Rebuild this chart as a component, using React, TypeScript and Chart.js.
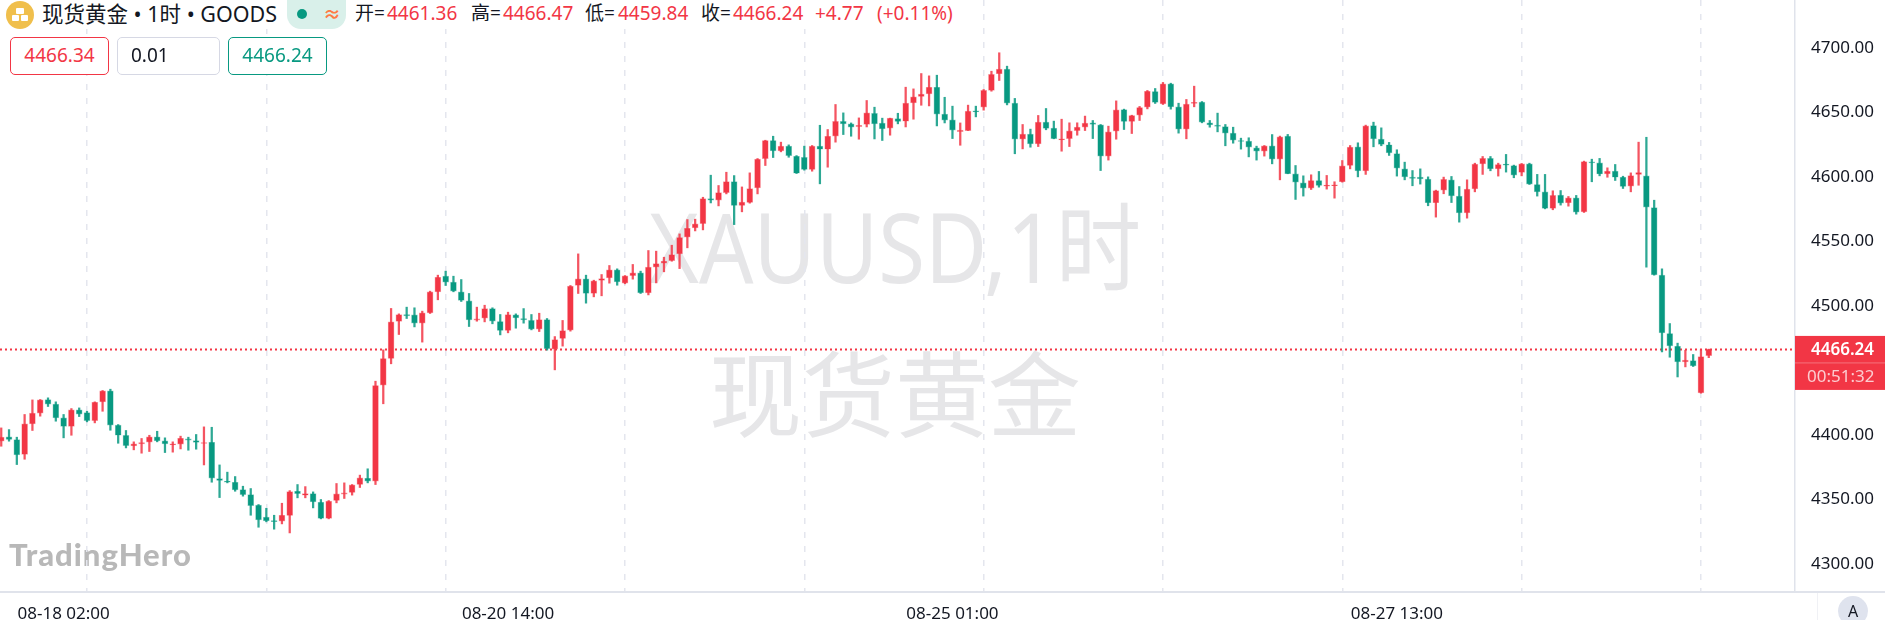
import { useEffect, useRef } from 'react'
import Chart from 'chart.js/auto'

const opens = [
  4395.1, 4398.4, 4396.4, 4384.8, 4408.5, 4416.8, 4427.4, 4423.8, 4413.2, 4406.5,
  4419.4, 4417.3, 4411.1, 4425.6, 4434.1, 4407.5, 4399.7, 4391.5, 4393.0, 4394.3,
  4398.4, 4395.3, 4392.2, 4392.8, 4396.9, 4395.6, 4393.3, 4394.3, 4366.1, 4364.1,
  4363.3, 4357.6, 4353.7, 4345.5, 4336.2, 4333.6, 4333.1, 4337.5, 4356.3, 4353.2,
  4354.5, 4347.8, 4335.2, 4349.1, 4354.0, 4355.3, 4361.5, 4366.4, 4364.1, 4438.5,
  4459.2, 4487.9, 4493.3, 4493.1, 4486.6, 4494.6, 4510.9, 4523.0, 4518.4, 4510.9,
  4503.9, 4488.9, 4490.5, 4497.9, 4487.9, 4480.9, 4493.0, 4490.2, 4488.7, 4481.9,
  4489.4, 4466.4, 4474.7, 4481.2, 4515.8, 4520.9, 4509.6, 4519.7, 4521.7, 4527.9,
  4517.6, 4523.5, 4525.6, 4510.1, 4530.0, 4533.1, 4535.1, 4540.3, 4553.2, 4560.5,
  4563.8, 4583.2, 4581.9, 4587.8, 4596.4, 4577.8, 4580.1, 4591.5, 4614.2, 4628.2,
  4620.2, 4623.8, 4616.0, 4615.2, 4605.7, 4623.8, 4621.4, 4631.5, 4643.1, 4641.1,
  4639.0, 4640.6, 4649.3, 4641.6, 4637.7, 4645.2, 4643.1, 4657.3, 4662.3, 4664.3,
  4669.5, 4648.6, 4644.2, 4635.1, 4635.9, 4651.2, 4654.0, 4667.0, 4679.9, 4683.5,
  4657.1, 4629.2, 4633.1, 4625.6, 4642.4, 4637.8, 4628.7, 4629.7, 4635.9, 4638.5,
  4641.9, 4640.3, 4616.1, 4635.4, 4652.2, 4642.9, 4647.8, 4654.0, 4666.2, 4656.6,
  4672.1, 4654.3, 4637.0, 4656.9, 4657.9, 4641.9, 4640.1, 4639.0, 4633.9, 4628.2,
  4627.7, 4622.5, 4619.9, 4624.1, 4613.7, 4631.6, 4602.4, 4595.4, 4591.2, 4597.2,
  4592.8, 4593.1, 4596.2, 4608.8, 4623.3, 4604.7, 4639.8, 4629.2, 4624.9, 4618.1,
  4606.2, 4599.8, 4599.8, 4598.2, 4579.9, 4589.7, 4597.7, 4585.1, 4572.1, 4590.7,
  4610.1, 4614.3, 4606.2, 4609.9, 4608.8, 4603.4, 4610.1, 4594.1, 4588.4, 4575.5,
  4585.8, 4579.9, 4583.8, 4572.9, 4611.7, 4610.9, 4602.3, 4604.4, 4599.7, 4592.8,
  4601.8, 4600.8, 4576.2, 4523.8, 4478.6, 4468.7, 4456.6, 4457.6, 4432.6, 4461.36,
]
const highs = [
  4405.4, 4404.1, 4398.2, 4415.8, 4427.1, 4427.4, 4428.7, 4425.6, 4415.8, 4420.4,
  4420.9, 4418.3, 4425.6, 4434.4, 4435.4, 4408.0, 4403.4, 4394.6, 4397.2, 4399.7,
  4402.8, 4397.7, 4394.6, 4399.0, 4398.2, 4400.3, 4406.2, 4405.9, 4376.7, 4371.1,
  4367.7, 4360.2, 4358.4, 4346.0, 4343.1, 4337.7, 4347.0, 4356.8, 4361.5, 4359.9,
  4355.8, 4349.9, 4349.1, 4362.3, 4362.8, 4361.5, 4368.8, 4373.7, 4441.6, 4465.9,
  4498.0, 4493.8, 4499.0, 4498.5, 4495.9, 4511.4, 4523.8, 4526.9, 4523.0, 4520.4,
  4509.6, 4499.0, 4500.5, 4498.5, 4493.3, 4495.1, 4493.8, 4497.9, 4493.3, 4494.3,
  4490.2, 4476.2, 4488.7, 4515.8, 4540.3, 4523.8, 4519.9, 4524.3, 4531.3, 4528.7,
  4523.5, 4532.1, 4526.9, 4542.9, 4542.4, 4537.7, 4547.0, 4555.8, 4566.9, 4567.2,
  4584.2, 4601.3, 4593.3, 4603.6, 4601.0, 4592.2, 4603.1, 4614.2, 4628.4, 4631.5,
  4626.9, 4624.8, 4616.5, 4623.8, 4624.3, 4640.0, 4636.7, 4656.1, 4649.6, 4641.8,
  4645.7, 4659.2, 4654.0, 4645.5, 4645.5, 4649.3, 4669.5, 4668.2, 4680.1, 4678.3,
  4678.8, 4661.7, 4654.8, 4641.8, 4655.6, 4654.8, 4667.7, 4681.9, 4696.2, 4685.8,
  4660.8, 4640.6, 4637.0, 4647.6, 4653.0, 4643.2, 4644.7, 4641.9, 4641.9, 4647.1,
  4643.7, 4640.6, 4639.3, 4658.9, 4652.5, 4647.8, 4654.6, 4667.0, 4668.5, 4673.2,
  4672.6, 4657.1, 4660.0, 4670.3, 4658.4, 4643.7, 4649.4, 4640.6, 4638.5, 4630.0,
  4630.3, 4623.8, 4624.3, 4632.8, 4631.6, 4632.9, 4608.8, 4600.8, 4601.6, 4604.2,
  4601.1, 4596.2, 4612.7, 4624.3, 4626.4, 4640.1, 4642.4, 4638.0, 4626.7, 4621.0,
  4611.4, 4604.9, 4606.2, 4600.0, 4589.7, 4599.8, 4600.3, 4592.5, 4597.7, 4610.6,
  4615.8, 4615.8, 4610.6, 4617.4, 4609.1, 4610.4, 4610.6, 4601.9, 4601.9, 4589.2,
  4589.4, 4584.8, 4585.6, 4612.2, 4613.7, 4614.3, 4607.0, 4609.6, 4600.5, 4603.1,
  4626.9, 4630.7, 4581.9, 4528.7, 4486.3, 4471.1, 4465.6, 4462.3, 4465.9, 4466.47,
]
const lows = [
  4391.2, 4395.1, 4377.0, 4381.1, 4403.4, 4414.5, 4422.0, 4410.6, 4397.7, 4399.7,
  4414.2, 4410.1, 4409.3, 4418.3, 4403.6, 4393.5, 4389.9, 4388.4, 4385.8, 4387.1,
  4394.6, 4386.3, 4386.6, 4389.1, 4388.1, 4388.9, 4376.7, 4363.3, 4351.4, 4362.8,
  4356.3, 4352.5, 4337.7, 4328.4, 4332.6, 4326.9, 4331.0, 4324.0, 4351.2, 4351.2,
  4343.4, 4334.9, 4334.9, 4347.3, 4350.7, 4353.3, 4359.2, 4362.8, 4361.5, 4424.1,
  4455.1, 4477.8, 4490.2, 4483.7, 4471.9, 4494.1, 4504.7, 4515.8, 4510.9, 4503.4,
  4484.0, 4488.1, 4487.6, 4486.1, 4477.5, 4479.1, 4482.7, 4486.6, 4481.4, 4480.1,
  4465.7, 4450.4, 4468.8, 4480.4, 4509.6, 4502.1, 4507.0, 4507.8, 4517.6, 4516.0,
  4517.1, 4520.7, 4509.6, 4508.5, 4517.8, 4526.4, 4534.6, 4528.9, 4545.0, 4558.1,
  4558.9, 4579.8, 4577.5, 4586.8, 4563.0, 4572.9, 4579.6, 4586.8, 4608.8, 4615.0,
  4619.4, 4615.2, 4602.6, 4605.2, 4604.4, 4594.6, 4607.5, 4626.9, 4632.8, 4631.5,
  4629.2, 4638.7, 4629.4, 4628.2, 4632.3, 4641.1, 4638.7, 4644.7, 4655.5, 4655.0,
  4639.5, 4641.8, 4629.7, 4624.5, 4635.9, 4646.5, 4651.7, 4666.4, 4674.7, 4655.8,
  4617.9, 4621.7, 4623.0, 4623.5, 4636.5, 4629.5, 4619.9, 4623.5, 4632.3, 4635.9,
  4629.7, 4604.9, 4613.0, 4629.2, 4636.7, 4633.6, 4643.7, 4652.7, 4656.9, 4656.1,
  4652.5, 4633.9, 4629.5, 4654.3, 4641.9, 4638.5, 4634.9, 4624.1, 4626.1, 4621.5,
  4615.5, 4613.0, 4616.1, 4610.1, 4597.7, 4602.4, 4582.5, 4585.1, 4590.2, 4592.0,
  4590.5, 4583.5, 4595.9, 4606.2, 4600.0, 4601.9, 4623.3, 4624.1, 4616.6, 4600.6,
  4597.7, 4593.1, 4594.4, 4577.6, 4568.8, 4586.9, 4580.1, 4564.9, 4568.0, 4588.4,
  4601.9, 4604.7, 4600.6, 4603.7, 4599.3, 4600.8, 4594.1, 4585.1, 4575.2, 4574.5,
  4578.1, 4577.3, 4571.1, 4572.4, 4596.2, 4600.8, 4599.7, 4597.2, 4591.0, 4588.4,
  4593.5, 4530.0, 4523.8, 4464.3, 4460.2, 4444.9, 4452.7, 4453.0, 4432.3, 4459.84,
]
const closes = [
  4398.2, 4396.4, 4384.5, 4408.5, 4416.8, 4427.1, 4423.8, 4413.2, 4406.5, 4419.4,
  4416.0, 4411.1, 4425.3, 4434.1, 4407.5, 4399.7, 4391.7, 4393.0, 4394.1, 4398.4,
  4395.3, 4393.0, 4393.0, 4397.4, 4395.9, 4394.1, 4394.1, 4366.4, 4364.6, 4363.3,
  4357.4, 4353.7, 4345.2, 4334.1, 4333.3, 4332.8, 4337.7, 4356.1, 4354.5, 4354.5,
  4348.1, 4335.2, 4348.6, 4354.3, 4355.1, 4361.3, 4366.7, 4364.1, 4438.3, 4459.2,
  4487.6, 4493.3, 4492.3, 4486.6, 4494.6, 4510.9, 4522.2, 4518.4, 4511.4, 4504.2,
  4489.2, 4489.9, 4497.9, 4488.1, 4480.9, 4493.3, 4490.7, 4489.2, 4481.9, 4489.4,
  4466.9, 4473.9, 4480.9, 4515.3, 4520.9, 4509.6, 4519.4, 4521.2, 4527.9, 4518.6,
  4523.3, 4525.6, 4510.1, 4530.0, 4532.8, 4534.6, 4539.8, 4553.0, 4560.2, 4563.6,
  4583.2, 4581.9, 4587.8, 4596.4, 4577.8, 4580.4, 4590.9, 4613.7, 4628.2, 4620.2,
  4623.8, 4616.5, 4602.8, 4605.7, 4623.8, 4621.4, 4631.5, 4643.1, 4641.1, 4638.5,
  4640.0, 4649.6, 4641.1, 4637.2, 4645.5, 4642.9, 4657.1, 4662.0, 4664.1, 4669.5,
  4648.6, 4643.9, 4636.2, 4636.2, 4650.9, 4650.4, 4667.0, 4679.4, 4683.5, 4657.1,
  4629.2, 4633.1, 4625.6, 4642.4, 4637.5, 4629.7, 4629.5, 4635.7, 4638.5, 4641.6,
  4640.6, 4616.1, 4634.9, 4652.0, 4642.9, 4647.6, 4653.8, 4666.4, 4657.7, 4672.1,
  4654.3, 4637.0, 4656.4, 4657.7, 4642.4, 4640.3, 4639.1, 4633.9, 4628.5, 4627.4,
  4623.0, 4619.9, 4624.1, 4613.7, 4631.0, 4602.4, 4595.9, 4591.2, 4597.2, 4593.3,
  4593.6, 4593.8, 4608.6, 4623.0, 4604.7, 4639.6, 4629.5, 4625.1, 4618.6, 4606.8,
  4600.0, 4598.7, 4598.5, 4579.9, 4589.4, 4598.0, 4585.3, 4572.1, 4590.5, 4609.9,
  4614.3, 4606.2, 4609.6, 4609.1, 4601.3, 4610.1, 4594.4, 4588.4, 4575.5, 4585.6,
  4579.6, 4583.8, 4572.7, 4611.9, 4610.9, 4602.2, 4604.4, 4599.7, 4592.5, 4601.0,
  4603.4, 4576.5, 4524.0, 4479.1, 4469.0, 4456.6, 4457.9, 4453.5, 4460.7, 4466.24,
]

const gridBars = [11, 34, 57, 80, 103, 126, 149, 172, 195, 218]
const timeLabelBars = [8, 65, 122, 179]
const timeLabels = ['08-18 02:00', '08-20 14:00', '08-25 01:00', '08-27 13:00']
const priceTicks = [4300, 4350, 4400, 4450, 4500, 4550, 4600, 4650, 4700]
const lastPrice = closes[closes.length - 1]

const RED = '#f23645'
const GREEN = '#089981'
const CJK = '"Noto Sans", "Noto Sans CJK SC", sans-serif'

const isUp = opens.map((o, i) => closes[i] >= o)

const backdrop = {
  id: 'backdrop',
  beforeDraw(chart: Chart) {
    const ctx = chart.ctx
    ctx.save()
    ctx.fillStyle = '#e6e6e8'
    ctx.textAlign = 'center'
    ctx.font = `96px ${CJK}`
    ctx.fillText('XAUUSD,1时', 895, 283, 492)
    ctx.font = `93px ${CJK}`
    ctx.fillText('现货黄金', 895, 430)
    ctx.fillStyle = '#b8b8b8'
    ctx.textAlign = 'left'
    ctx.font = '900 31px Lato'
    ;(ctx as any).letterSpacing = '1px'
    ctx.fillText('TradingHero', 9, 566, 183)
    ;(ctx as any).letterSpacing = '0px'
    ctx.restore()
  },
}

const chrome = {
  id: 'chrome',
  afterDraw(chart: Chart) {
    const ctx = chart.ctx
    const y = chart.scales.y.getPixelForValue(lastPrice)
    ctx.save()
    // time axis rule across the whole width
    ctx.fillStyle = '#e0e3eb'
    ctx.fillRect(0, 591, 1885, 2)
    ctx.fillStyle = '#f0f1f5'
    ctx.fillRect(1817, 593, 1, 27)
    // auto-scale button
    ctx.fillStyle = '#dfe3ee'
    ctx.beginPath()
    ctx.arc(1853, 611, 15, 0, Math.PI * 2)
    ctx.fill()
    ctx.fillStyle = '#131722'
    ctx.font = `16px ${CJK}`
    ctx.textAlign = 'center'
    ctx.textBaseline = 'middle'
    ctx.fillText('A', 1853, 612)
    // last price tag
    ctx.fillStyle = RED
    ctx.fillRect(1795, y - 13.5, 90, 54)
    ctx.fillStyle = 'rgba(255,255,255,0.3)'
    ctx.fillRect(1795, y + 13, 90, 1)
    ctx.textAlign = 'left'
    ctx.fillStyle = '#ffffff'
    ctx.font = `600 17px ${CJK}`
    ctx.fillText('4466.24', 1811, y + 0.5)
    ctx.fillStyle = 'rgba(255,255,255,0.75)'
    ctx.font = `17px ${CJK}`
    ctx.fillText('00:51:32', 1807, y + 27.5)
    ctx.restore()
  },
}

function Quote({ left, color, children }: { left: number; color: string; children: React.ReactNode }) {
  return <span style={{ position: 'absolute', left, top: 0, color, whiteSpace: 'nowrap' }}>{children}</span>
}

function PriceBox({ left, width, border, color, align, children }: any) {
  return (
    <div
      style={{
        position: 'absolute',
        left,
        top: 37,
        width,
        height: 38,
        boxSizing: 'border-box',
        border: `1.5px solid ${border}`,
        borderRadius: 5,
        color,
        fontSize: 19,
        lineHeight: '35px',
        textAlign: align,
        paddingLeft: align === 'left' ? 13 : 0,
        background: '#fff',
      }}
    >
      {children}
    </div>
  )
}

export default function App() {
  const canvasRef = useRef<HTMLCanvasElement>(null)

  useEffect(() => {
    if (!canvasRef.current) return
    const xMin = -0.158
    const xMax = 230.06

    const chart = new Chart(canvasRef.current, {
      type: 'bar',
      plugins: [backdrop, chrome],
      data: {
        datasets: [
          {
            type: 'bar',
            label: 'body',
            order: 1,
            grouped: false,
            barThickness: 6,
            borderWidth: 0.7,
            borderSkipped: false,
            data: opens.map((o, i) => ({ x: i, y: [o, closes[i]] })),
            backgroundColor: isUp.map((u) => (u ? RED : GREEN)),
            borderColor: isUp.map((u) => (u ? 'rgba(242,54,69,0.45)' : 'rgba(8,153,129,0.45)')),
          },
          {
            type: 'bar',
            label: 'wick',
            order: 2,
            grouped: false,
            barThickness: 1.6,
            data: lows.map((l, i) => ({ x: i, y: [l, highs[i]] })),
            backgroundColor: isUp.map((u) => (u ? 'rgba(242,54,69,0.85)' : 'rgba(8,153,129,0.85)')),
          },
          {
            type: 'line',
            label: 'last',
            order: 3,
            data: [
              { x: xMin, y: lastPrice },
              { x: xMax, y: lastPrice },
            ],
            borderColor: RED,
            borderWidth: 2,
            borderDash: [2, 3],
            pointRadius: 0,
          },
        ],
      } as any,
      options: {
        responsive: false,
        animation: false,
        layout: { padding: 0, autoPadding: false },
        plugins: { legend: { display: false }, tooltip: { enabled: false } },
        scales: {
          x: {
            type: 'linear',
            min: xMin,
            max: xMax,
            offset: false,
            afterBuildTicks: (scale: any) => {
              scale.ticks = gridBars.map((value) => ({ value }))
            },
            afterFit: (scale: any) => {
              scale.height = 0
              scale.paddingLeft = 0
              scale.paddingRight = 0
            },
            ticks: { display: false },
            border: { display: false, dash: [6, 8] },
            grid: { color: '#e4e6ee', lineWidth: 1.5, drawTicks: false, offset: false },
          },
          time: {
            type: 'linear',
            axis: 'x',
            position: 'bottom',
            min: xMin,
            max: xMax,
            offset: false,
            afterBuildTicks: (scale: any) => {
              scale.ticks = timeLabelBars.map((value) => ({ value }))
            },
            afterFit: (scale: any) => {
              scale.height = 28
              scale.paddingLeft = 0
              scale.paddingRight = 0
            },
            ticks: {
              autoSkip: false,
              maxRotation: 0,
              padding: 4,
              color: '#131722',
              font: { family: CJK, size: 17 },
              callback: (value: any) => timeLabels[timeLabelBars.indexOf(value)],
            },
            border: { display: false },
            grid: { display: false, offset: false },
          },
          y: {
            type: 'linear',
            position: 'right',
            min: 4278.2,
            max: 4737.1,
            afterBuildTicks: (scale: any) => {
              scale.ticks = priceTicks.map((value) => ({ value }))
            },
            afterFit: (scale: any) => {
              scale.width = 90
              scale.paddingTop = 0
              scale.paddingBottom = 0
            },
            ticks: {
              padding: 8,
              color: '#131722',
              font: { family: CJK, size: 17 },
              callback: (value: any) => Number(value).toFixed(2),
            },
            border: { color: '#e0e3eb', width: 1.5 },
            grid: { display: false },
          },
        },
      } as any,
    })

    return () => {
      chart.destroy()
    }
  }, [])

  return (
    <div style={{ position: 'absolute', left: 0, top: 0, width: 1885, height: 620, background: '#fff', overflow: 'hidden', fontFamily: CJK }}>
      <canvas ref={canvasRef} width={1885} height={620} style={{ display: 'block' }} />

      <div style={{ position: 'absolute', left: 0, top: 0, width: 960, height: 29, background: '#fff' }} />
      <svg width={30} height={30} style={{ position: 'absolute', left: 5, top: 0 }}>
        <circle cx={15} cy={15} r={14} fill="#f0bf4c" />
        <rect x={11} y={8} width={8} height={6} rx={1} fill="#fff" />
        <rect x={7} y={15} width={7} height={6} rx={1} fill="#fff" />
        <rect x={16} y={15} width={7} height={6} rx={1} fill="#fff" />
      </svg>
      <span style={{ position: 'absolute', left: 42, top: 0, fontSize: 21.5, color: '#131722', whiteSpace: 'nowrap', lineHeight: '27px' }}>
        现货黄金 • 1时 • GOODS
      </span>
      <div style={{ position: 'absolute', left: 287, top: 0, width: 59, height: 29, background: '#d9f0ea', borderRadius: '0 0 14px 14px' }}>
        <div style={{ position: 'absolute', left: 10, top: 9, width: 10, height: 10, borderRadius: 5, background: GREEN }} />
        <span style={{ position: 'absolute', left: 36, top: 0, color: '#ff7a45', fontSize: 18, lineHeight: '28px', fontWeight: 700 }}>≈</span>
      </div>
      <div style={{ position: 'absolute', left: 0, top: 0, fontSize: 19, lineHeight: '27px' }}>
        <Quote left={355} color="#131722">开=</Quote>
        <Quote left={387} color={RED}>4461.36</Quote>
        <Quote left={471} color="#131722">高=</Quote>
        <Quote left={503} color={RED}>4466.47</Quote>
        <Quote left={585} color="#131722">低=</Quote>
        <Quote left={618} color={RED}>4459.84</Quote>
        <Quote left={701} color="#131722">收=</Quote>
        <Quote left={733} color={RED}>4466.24</Quote>
        <Quote left={815} color={RED}>+4.77</Quote>
        <Quote left={877} color={RED}>(+0.11%)</Quote>
      </div>

      <PriceBox left={10} width={99} border={RED} color={RED} align="center">4466.34</PriceBox>
      <PriceBox left={117} width={103} border="#d6d8e4" color="#131722" align="left">0.01</PriceBox>
      <PriceBox left={228} width={99} border={GREEN} color={GREEN} align="center">4466.24</PriceBox>
    </div>
  )
}
